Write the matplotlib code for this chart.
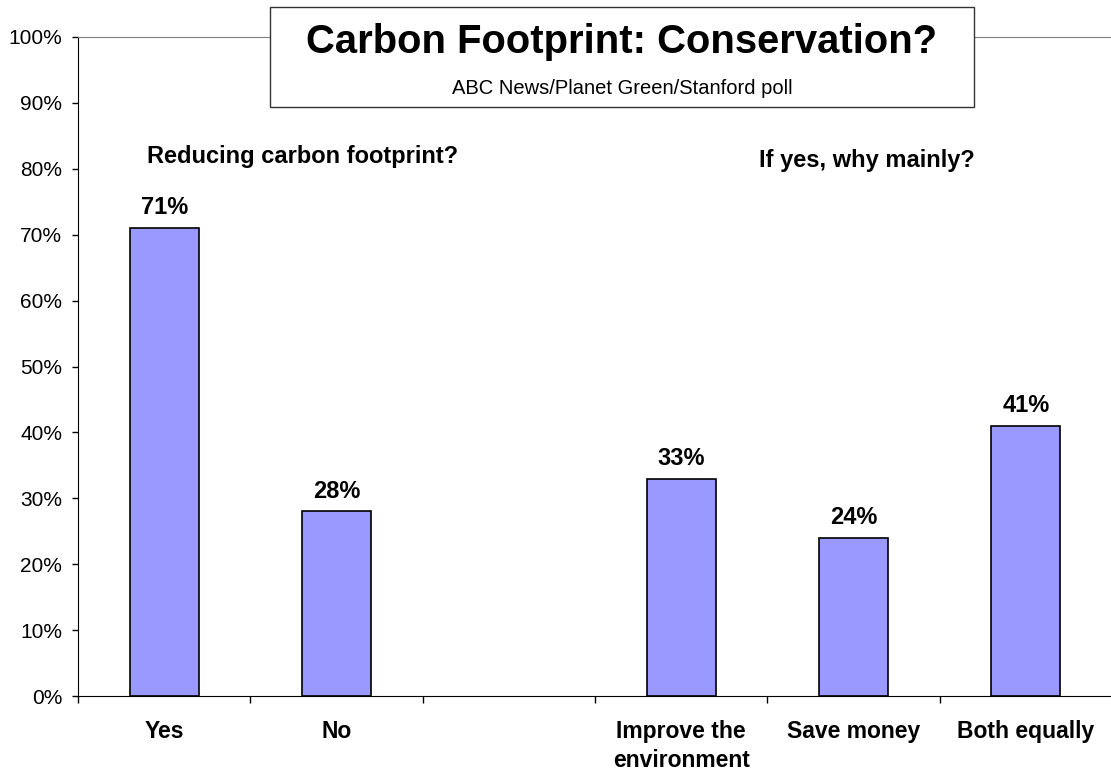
import numpy as np
import matplotlib
matplotlib.use('Agg')
import matplotlib.pyplot as plt
from matplotlib.patches import Rectangle

plt.rcParams['font.family'] = ['Liberation Sans', 'DejaVu Sans']

# data
categories = ['Yes', 'No', '', 'Improve the\nenvironment', 'Save money', 'Both equally']
values = [71, 28, None, 33, 24, 41]
yticks = list(range(0, 101, 10))

title = 'Carbon Footprint: Conservation?'
subtitle = 'ABC News/Planet Green/Stanford poll'
group_left = 'Reducing carbon footprint?'
group_right = 'If yes, why mainly?'

bar_color = '#9999ff'

W, H = 1111, 772
fig = plt.figure(figsize=(W / 100, H / 100), dpi=100)
ax = fig.add_axes([78 / W, (H - 696) / H, (1112 - 78) / W, (696 - 37) / H])

# bars
pos = [i for i, v in enumerate(values) if v is not None]
vals = [v for v in values if v is not None]
ax.bar(pos, vals, width=0.4, color=bar_color, edgecolor='black', linewidth=1.2, zorder=2)

for x, v in zip(pos, vals):
    ax.annotate('%d%%' % v, (x, v), xytext=(0, 10), textcoords='offset points',
                ha='center', va='baseline', fontsize=17, fontweight='bold')

ax.set_xlim(-0.5, len(categories) - 0.5)
ax.set_ylim(0, 100)

# y axis
ax.set_yticks(yticks)
ax.set_yticklabels(['%d%%' % t for t in yticks])
ax.tick_params(axis='y', direction='out', length=4.5, width=1, pad=7, labelsize=15)

# x axis: ticks between slots, labels at the centres
ax.set_xticks(np.arange(len(categories) + 1) - 0.5)
ax.set_xticklabels([])
ax.tick_params(axis='x', which='major', direction='out', length=5, width=1)
ax.set_xticks(np.arange(len(categories)), minor=True)
ax.set_xticklabels(categories, minor=True, fontsize=16.5, fontweight='bold')
ax.tick_params(axis='x', which='minor', length=0, pad=17)
for lbl in ax.get_xticklabels(minor=True):
    lbl.set_linespacing(1.35)

ax.spines['right'].set_visible(False)
ax.spines['top'].set_color('#808080')
ax.spines['left'].set_color('black')
ax.spines['bottom'].set_color('black')

# group headers
ax.text(0.805, 81.8, group_left, ha='center', va='center', fontsize=17, fontweight='bold')
ax.text(4.077, 81.3, group_right, ha='center', va='center', fontsize=17, fontweight='bold')

# title box
fig.patches.append(Rectangle((270 / W, 1 - 107 / H), (974 - 270) / W, 100 / H,
                             transform=fig.transFigure, facecolor='white',
                             edgecolor='#333333', linewidth=1, zorder=5))
fig.text((270 + 974) / 2 / W, 1 - 42 / H, title, ha='center', va='center',
         fontsize=28.8, fontweight='bold', zorder=6)
fig.text((270 + 974) / 2 / W, 1 - 89 / H, subtitle, ha='center', va='center',
         fontsize=14.5, zorder=6)

fig.savefig('out.png', dpi=100)
